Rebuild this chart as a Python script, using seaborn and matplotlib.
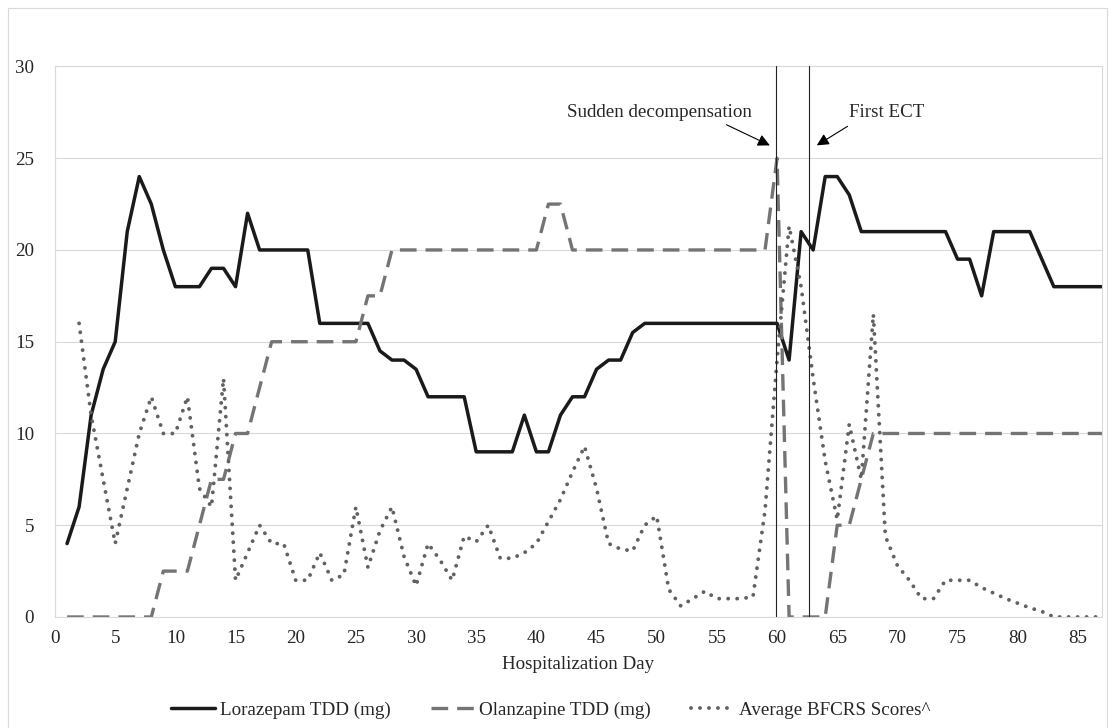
import numpy as np
import pandas as pd
import seaborn as sns
import matplotlib.pyplot as plt
from matplotlib.patches import Rectangle

# data
days = np.arange(1, 88)
lorazepam = [4, 6, 11, 13.5, 15, 21, 24, 22.5, 20, 18,
             18, 18, 19, 19, 18, 22, 20, 20, 20, 20,
             20, 16, 16, 16, 16, 16, 14.5, 14, 14, 13.5,
             12, 12, 12, 12, 9, 9, 9, 9, 11, 9,
             9, 11, 12, 12, 13.5, 14, 14, 15.5, 16, 16,
             16, 16, 16, 16, 16, 16, 16, 16, 16, 16,
             14, 21, 20, 24, 24, 23, 21, 21, 21, 21,
             21, 21, 21, 21, 19.5, 19.5, 17.5, 21, 21, 21,
             21, 19.5, 18, 18, 18, 18, 18]
olanzapine = [0, 0, 0, 0, 0, 0, 0, 0, 2.5, 2.5,
              2.5, 5, 7.5, 7.5, 10, 10, 12.5, 15, 15, 15,
              15, 15, 15, 15, 15, 17.5, 17.5, 20, 20, 20,
              20, 20, 20, 20, 20, 20, 20, 20, 20, 20,
              22.5, 22.5, 20, 20, 20, 20, 20, 20, 20, 20,
              20, 20, 20, 20, 20, 20, 20, 20, 20, 25,
              0, 0, 0, 0, 5, 5, 7.5, 10, 10, 10,
              10, 10, 10, 10, 10, 10, 10, 10, 10, 10,
              10, 10, 10, 10, 10, 10, 10]
bfcrs_days = np.arange(2, 88)
bfcrs = [16, 11, 7.5, 4, 7, 10, 12, 10, 10,
         12, 7, 6, 13, 2, 3.5, 5, 4, 4, 2,
         2, 3.5, 2, 2.3, 6, 2.7, 4.7, 6, 3.3, 1.7,
         4, 3.1, 2, 4.4, 4.1, 5, 3.2, 3.2, 3.5, 4,
         5.2, 6.4, 7.9, 9.3, 7, 4, 3.7, 3.6, 5, 5.5,
         1.5, 0.6, 1, 1.4, 1, 1, 1, 1.1, 5.8, 14,
         21.3, 18, 13, 8.5, 5.3, 10.5, 7.5, 16.5, 4.4, 2.8,
         2, 1, 1, 2, 2, 2, 1.6, 1.3, 1, 0.75,
         0.5, 0.3, 0, 0, 0, 0, 0]
event_days = [59.95, 62.65]

sns.set_style("white")
plt.rcParams['font.family'] = ['Liberation Serif', 'DejaVu Serif']
plt.rcParams['font.size'] = 13.7
text_col = '#262626'
grid_col = '#d9d9d9'

fig = plt.figure(figsize=(11.14, 7.28), dpi=100)
ax = fig.add_axes([0.0494, 0.1525, 0.9398, 0.7562])

# outer chart frame
fig.patches.append(Rectangle((8 / 1114, -0.01), 1099 / 1114, 1 - 8 / 728 + 0.01,
                             transform=fig.transFigure, fill=False,
                             edgecolor=grid_col, lw=0.8))

sns.lineplot(x=days, y=lorazepam, ax=ax, color='#1a1a1a', lw=2.5,
             label='Lorazepam TDD (mg)', errorbar=None)
sns.lineplot(x=days, y=olanzapine, ax=ax, color='#747474', lw=2.4,
             linestyle=(0, (5, 2.7)), label='Olanzapine TDD (mg)', errorbar=None)
sns.lineplot(x=bfcrs_days, y=bfcrs, ax=ax, color='#616161', lw=2.8,
             linestyle=(0, (0.01, 2.3)), dash_capstyle='round',
             label='Average BFCRS Scores^', errorbar=None)

for d in event_days:
    ax.plot([d, d], [0, 30], color='#222222', lw=0.8, zorder=3)

ax.set_xlim(0, 87)
ax.set_ylim(0, 30)
ax.set_yticks(range(0, 31, 5))
ticks = np.arange(0, 87.1, 2.5)
ax.set_xticks(ticks)
ax.set_xticklabels([str(int(t)) if t % 5 == 0 else '' for t in ticks])
ax.tick_params(axis='x', direction='inout', length=9, width=0.8,
               color=grid_col, pad=5, labelcolor=text_col, labelsize=13.7)
ax.tick_params(axis='y', length=0, pad=15, labelcolor=text_col, labelsize=13.7)
ax.yaxis.grid(True, color=grid_col, lw=0.8)
ax.set_axisbelow(True)
for s in ax.spines.values():
    s.set_color(grid_col)
    s.set_linewidth(0.8)

ax.set_xlabel('Hospitalization Day', color=text_col, fontsize=13.7, labelpad=6)
ax.set_ylabel('')

ax.annotate('Sudden decompensation', xy=(59.4, 25.7), xytext=(50.2, 27.5),
            ha='center', va='center', color=text_col, fontsize=13.7,
            arrowprops=dict(arrowstyle='-|>,head_length=0.6,head_width=0.3',
                            color='black', lw=0.8, relpos=(0.82, 0.0),
                            shrinkA=1, shrinkB=0, mutation_scale=12))
ax.annotate('First ECT', xy=(63.3, 25.7), xytext=(69.1, 27.5),
            ha='center', va='center', color=text_col, fontsize=13.7,
            arrowprops=dict(arrowstyle='-|>,head_length=0.6,head_width=0.3',
                            color='black', lw=0.8, relpos=(0.1, 0.0),
                            shrinkA=3, shrinkB=0, mutation_scale=12))

handles, labels = ax.get_legend_handles_labels()
ax.get_legend().remove()
fig.legend(handles, labels, loc='center', bbox_to_anchor=(551 / 1114, 1 - 710 / 728),
           ncol=3, frameon=False, fontsize=13.7, handlelength=2.3,
           handletextpad=0.25, columnspacing=2.1, labelcolor=text_col)

fig.savefig('out.png', dpi=100)
